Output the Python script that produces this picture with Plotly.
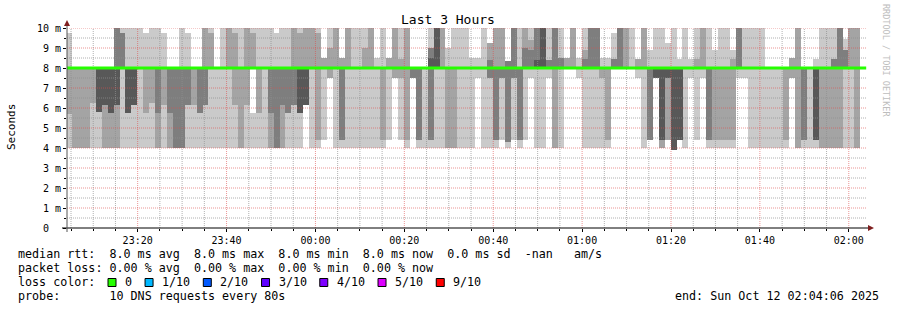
import plotly.graph_objects as go
import pandas as pd

# ---------------- data ----------------
chart_title = "Last 3 Hours"
y_title = "Seconds"
end_time = pd.Timestamp("2025-10-12 02:04:06")
start_time = end_time - pd.Timedelta(hours=3)
first_sample = pd.Timestamp("2025-10-11 23:03:55")
step = pd.Timedelta(seconds=80)

# sorted ping values per 80 s step (ms); p5 = p6 = median
p1 = [4,4,4,4,4,4,4,4,4,4,
      4,4,4,4,4,4,4,4,4,4,
      4,4,4,4,4,4,4,4,4,4,
      4,4,4,4,4,4,4,4,4,4,
      6.15,4,4,4.4,7.5,4,4,4,4,4,
      4,4,4,4,4.4,7.5,4.4,4,7.5,4,
      4,4,4,4,4,4,4,4,4,7.5,
      4,4,4,4.4,4,4.4,4,4.4,7.5,4,
      4,7.5,4,4,8,8,7.5,4,4,4,
      4,4,8,8,8,8,7.5,4,4.4,7.5,
      4,4.4,3.9,4.4,4,7.5,4.4,7.5,4,4,
      4,4,4,7.5,7.5,4,4,4,4,4,
      4,4,7.5,4,4,4,4,4,4,4,
      4,4,4,4,None]
p2 = [5.7,4,4,4,6.25,5.8,4,4,4,8,
      5.75,6.15,8,5.75,6.25,4,6.15,4,4,4,
      6.15,6.15,5.75,6.15,8,8,8,8,6.15,4,
      6.15,8,5.75,8,4,4,4,5.75,6.15,5.75,
      6.15,8,4.4,8,7.5,8,4.4,8,8,8,
      8,8,8,4.4,8,7.5,7.5,4.4,7.5,4.4,
      8,4.4,8,8,4,4,8,8,8,8,
      8,7.5,4.4,7.5,4.3,7.5,4.4,8,8,8,
      8,8,4,8,8,8,8,8,8,8,
      7.5,4.4,8,8,8,8,8,8,4.4,7.5,
      4,4.4,3.9,4.4,8,8,8,8,4.4,4.4,
      4.4,4.4,4.4,8,8,8,8,8,8,8,
      8,4.4,7.5,4,4.4,8,4.4,4,4,4,
      4,8,8,4,None]
p3 = [8,8,8,8,8,5.8,6.15,5.75,6.15,8,
      5.75,6.15,8,8,8,5.75,8,5.75,4,4,
      6.15,8,5.75,6.15,8,8,8,8,8,8,
      8,8,8,8,5.75,4,6.15,5.75,6.15,5.75,
      6.15,8,8,8,8,8,4.4,8,8,8,
      8,8,8,8,8,8,8,8,7.5,4.4,
      8,4.4,8,8,8,8,8,8,8,8,
      8,7.5,4.4,7.5,4.3,7.5,4.4,8,8,8,
      8,8,8,8,8,8,8,8,8,8,
      8,8,8,8,8,8,8,8,4.4,7.5,
      4.4,7.5,3.9,4.4,8,8,8,8,4.4,8,
      8,8,8,8,8,8,8,8,8,8,
      8,8,8,8,4.4,8,4.4,8,8,8,
      8,8,8,8,None]
p4 = [8,8,8,8,8,5.8,6.15,5.75,6.15,8,
      5.75,6.15,8,8,8,8,8,8,8,8,
      8,8,8,8,8,8,8,8,8,8,
      8,8,8,8,8,8,8,8,8,5.75,
      6.15,8,8,8,8,8,8,8,8,8,
      8,8,8,8,8,8,8,8,8,8,
      8,8,8,8,8,8,8,8,8,8,
      8,8,8,8,8,8,8,8,8,8,
      8,8,8,8,8,8,8,8,8,8,
      8,8,8,8,8,8,8,8,8,7.5,
      4.4,7.5,3.9,4.4,8,8,8,8,8,8,
      8,8,8,8,8,8,8,8,8,8,
      8,8,8,8,8,8,4.4,8,8,8,
      8,8,8,8,None]
p7 = [8,8,8,8,8,8,8,8,8,8,
      8,8,8,8,8,8,8,8,8,8,
      8,8,8,8,8,8,8,8,8,8,
      8,8,8,8,8,8,8,8,8,8,
      8,8,8,8,8,8,8,8,8,8,
      8,8,8,8,8,8,8,8,8,8,
      8,8.5,10,8,8,8,8,8,8,8,
      8,8,8,8,8,8,8,8,8,8.4,
      10,8,8,8,8,8,8,8,8,8,
      8,8,8,8,8,8,8,8,8,8,
      8,8,8,8,8,8,8,8,8,8,
      8,8,8,8,8,8,8,8,8,8,
      8,8,8,8,8,8,8,8,8,8,
      8,8,8,8,None]
p8 = [8,8,8,8,8,8,8,8,10,9.75,
      8,8,8,8,8,8,8,8,8,8,
      8,8,8,8,8,8,8,8,8,8,
      8,8,8,8,8,8,8,8,8,8,
      8,8,8,8,8,8,8,8,8,8,
      8,8,8,8,8,8,8,8,8,8,
      8,9,10,8,8,8,8,8,8,8,
      8,8.4,8,8,8.35,10,8,9,8.9,10,
      10,8.4,10,8.5,8,8,8,8.45,10,10,
      8,8,8.45,10,8,8,8,8,8,8,
      8,8,8,8,8,8,8,8,8,8,
      8,8,8,10,8,8,8,8,8,8,
      8,8,8,8,8,8,8,8,8,8.45,
      10,8.9,8,8,None]
p9 = [8,8,8,8,8,8,8,8,10,9.75,
      8,8,8,8,8,8,8,8,8,8,
      8,8,8,10,9.75,8,8,10,9.75,8,
      10,9.75,8,8,8,8,8,8,10,9.75,
      10,10,9.75,8.5,9,10,8.5,10,8,8,
      9,10,8,8,8.5,10,8.45,10,8,8,
      8,9,10,10,8,8,8,8,8,8,
      8,9.25,10,10,8.35,10,8,10,9.4,10,
      10,8.4,10,8.5,8.5,10,8,8.9,10,10,
      8,8,8.45,10,10,8,8.45,10,8,8,
      8,8,8,8,8,8,8.45,10,8,8,
      8,8,8.45,10,8,8,8,8,8,8,
      8,8,8.5,10,8,8,8,8,8,8.45,
      10,8.9,10,10,None]
p10 = [9.75,8,8,8,8,8,8,8,10,10,
       10,10,10,9.75,10,10,9.75,8,8,10,
       9.75,8,8,10,10,8,10,10,10,10,
       10,10,10,10,10,9.75,10,10,10,10,
       10,10,10,8.5,10,10,8.5,10,10,10,
       10,10,8.5,10,8.5,10,10,10,8,8,
       8,10,10,10,9,10,10,10,8.5,8.5,
       10,9.25,10,10,8.35,10,10,10,10,10,
       10,10,10,10,8.5,10,8.5,10,10,10,
       8.5,8.5,9.75,10,10,10,8.45,10,8.9,10,
       10,9.25,10,8.45,10,8.45,10,10,10,8.9,
       10,10,8.9,10,10,10,10,10,8,8,
       8,8,8.5,10,8,8,8.45,10,10,10,
       10,9.45,10,10,None]
median = [8.0,8.0,8.0,8.0,8.0,8.0,8.0,8.0,8.0,8.0,8.0,8.0,8.0,8.0,8.0,
          8.0,8.0,8.0,8.0,8.0,8.0,8.0,8.0,8.0,8.0,8.0,8.0,8.0,8.0,8.0,
          8.0,8.0,8.0,8.0,8.0,8.0,8.0,8.0,8.0,8.0,8.0,8.0,8.0,8.0,8.0,
          8.0,8.0,8.0,8.0,8.0,8.0,8.0,8.0,8.0,8.0,8.0,8.0,8.0,8.0,8.0,
          8.0,8.0,8.0,8.0,8.0,8.0,8.0,8.0,8.0,8.0,8.0,8.0,8.0,8.0,8.0,
          8.0,8.0,8.0,8.0,8.0,8.0,8.0,8.0,8.0,8.0,8.0,8.0,8.0,8.0,8.0,
          8.0,8.0,8.0,8.0,8.0,8.0,8.0,8.0,8.0,8.0,8.0,8.0,8.0,8.0,8.0,
          8.0,8.0,8.0,8.0,8.0,8.0,8.0,8.0,8.0,8.0,8.0,8.0,8.0,8.0,8.0,
          8.0,8.0,8.0,8.0,8.0,8.0,8.0,8.0,8.0,8.0,8.0,8.0,8.0,8.0,8.0]
# white gaps inside the smoke (rare)
gap_lo = [None] * 31 + [5.75] + [None] * 103
gap_hi = [None] * 31 + [8.0] + [None] * 103

y_tick_values = [0, 1, 2, 3, 4, 5, 6, 7, 8, 9, 10]
y_tick_labels = ["\u00a00\u00a0\u00a0", "\u00a01 m", "\u00a02 m", "\u00a03 m", "\u00a04 m",
                 "\u00a05 m", "\u00a06 m", "\u00a07 m", "\u00a08 m", "\u00a09 m", "10 m"]
legend_lines = [
    "median rtt:  8.0 ms avg  8.0 ms max  8.0 ms min  8.0 ms now  0.0 ms sd  -nan   am/s",
    "packet loss: 0.00 % avg  0.00 % max  0.00 % min  0.00 % now",
    "loss color:",
    "probe:       10 DNS requests every 80s",
]
loss_labels = ["0", "1/10", "2/10", "3/10", "4/10", "5/10", "9/10"]
loss_colors = ["#26ff00", "#00b8ff", "#0059ff", "#5e00ff", "#7e00ff", "#dd00ff", "#ff0000"]
end_label = "end: Sun Oct 12 02:04:06 2025"
watermark = "RRDTOOL / TOBI OETIKER"

# ---------------- figure ----------------
W, H = 897, 310
L, R, T, B = 67, 30, 28, 82
PW, PH = W - L - R, H - T - B
FONT = "DejaVu Sans Mono"


def px(x):
    return (x - L) / PW


def py(y):
    return (T + PH - y) / PH


n = len(median)
col_start = pd.date_range(first_sample, periods=n, freq=step)
centers = col_start + step / 2
width_ms = step.total_seconds() * 1000 * 1.01

fig = go.Figure()


def band(lo, hi, color):
    base = [a if (a is not None and b is not None) else None for a, b in zip(lo, hi)]
    hgt = [(b - a) if (a is not None and b is not None) else None for a, b in zip(lo, hi)]
    fig.add_trace(go.Bar(x=centers, y=hgt, base=base, width=width_ms,
                         marker=dict(color=color, line=dict(width=0)),
                         hoverinfo="skip", showlegend=False))


band(p1, p10, "#cacaca")
band(p2, p9, "#a4a4a4")
band(p3, p8, "#7e7e7e")
band(p4, p7, "#585858")
band(gap_lo, gap_hi, "#ffffff")

# grid (drawn above the smoke, like rrdtool)
major_x = pd.date_range("2025-10-11 23:20", "2025-10-12 02:00", freq="20min")
all_x = pd.date_range("2025-10-11 23:05", "2025-10-12 02:00", freq="5min")
minor_x = [t for t in all_x if t.minute % 20 != 0]
minor_y = [v + 0.5 for v in y_tick_values[:-1]]
major_y = y_tick_values[1:]


def vlines(ts):
    xs, ys = [], []
    for t in ts:
        xs += [t, t, None]
        ys += [y_tick_values[0], y_tick_values[-1], None]
    return xs, ys


def hlines(vs):
    xs, ys = [], []
    for v in vs:
        xs += [start_time, end_time, None]
        ys += [v, v, None]
    return xs, ys


minor_col = "rgba(143,143,143,0.7)"
major_col = "rgba(222,79,79,0.6)"
for (xs, ys), col in [(vlines(minor_x), minor_col), (hlines(minor_y), minor_col),
                      (vlines(major_x), major_col), (hlines(major_y), major_col)]:
    fig.add_trace(go.Scatter(x=xs, y=ys, mode="lines",
                             line=dict(color=col, width=1, dash="1px,1px"),
                             hoverinfo="skip", showlegend=False))

# median line
med_x = list(col_start) + [col_start[-1] + step]
med_y = median + [median[-1]]
fig.add_trace(go.Scatter(x=med_x, y=med_y, mode="lines", line_shape="hv",
                         line=dict(color=loss_colors[0], width=3),
                         hoverinfo="skip", showlegend=False))

fig.update_layout(
    width=W, height=H, margin=dict(l=L, r=R, t=T, b=B, pad=0),
    paper_bgcolor="white", plot_bgcolor="white",
    barmode="overlay", bargap=0, showlegend=False,
    font=dict(family=FONT, color="black", size=10),
)
fig.update_xaxes(
    type="date", range=[start_time, end_time], showgrid=False, zeroline=False, showline=False,
    tickmode="array", tickvals=list(major_x), ticktext=[t.strftime("%H:%M") for t in major_x],
    ticks="outside", ticklen=3, tickcolor="black", tickwidth=1,
    tickfont=dict(family=FONT, size=10, color="black"),
    minor=dict(ticks="outside", ticklen=2, tickcolor="black", tickvals=minor_x, showgrid=False),
    fixedrange=True,
)
fig.update_yaxes(
    range=[y_tick_values[0], y_tick_values[-1]], showgrid=False, zeroline=False, showline=False,
    tickmode="array", tickvals=y_tick_values, ticktext=y_tick_labels,
    ticks="outside", ticklen=3, tickcolor="black", tickwidth=1,
    tickfont=dict(family=FONT, size=10, color="black"),
    minor=dict(ticks="outside", ticklen=2, tickcolor="black", tickvals=minor_y, showgrid=False),
    fixedrange=True,
)

shapes = []
# axes
shapes.append(dict(type="line", xref="paper", yref="paper", x0=px(62), x1=px(869), y0=py(228), y1=py(228),
                   line=dict(color="black", width=1), layer="above"))
shapes.append(dict(type="line", xref="paper", yref="paper", x0=px(67), x1=px(67), y0=py(232), y1=py(24),
                   line=dict(color="#555555", width=1), layer="above"))
# arrows
shapes.append(dict(type="path", xref="paper", yref="paper",
                   path=f"M {px(868)},{py(225)} L {px(874)},{py(228)} L {px(868)},{py(231)} Z",
                   fillcolor="#7f1f1f", line=dict(width=0), layer="above"))
shapes.append(dict(type="path", xref="paper", yref="paper",
                   path=f"M {px(64)},{py(26)} L {px(67)},{py(20)} L {px(70)},{py(26)} Z",
                   fillcolor="#7f1f1f", line=dict(width=0), layer="above"))

annotations = []


def text(x, y, s, size, xanchor="left", angle=0, color="black"):
    annotations.append(dict(xref="paper", yref="paper", x=px(x), y=py(y), text=s.replace(" ", "\u00a0"),
                            showarrow=False, xanchor=xanchor, yanchor="middle", textangle=angle,
                            font=dict(family=FONT, size=size, color=color)))


text(448, 19, chart_title, 13, xanchor="center")
text(11, 127, y_title, 11, xanchor="center", angle=-90)
text(886, 60, watermark, 8.5, xanchor="center", angle=90, color="#bdbdbd")

LEG = 11.7
CW = 7.06
line_y = [254, 268, 282, 296]
for s, yy in zip(legend_lines, line_y):
    text(16, yy, s, LEG)
text(881, 296, end_label, LEG, xanchor="right")

bx = 108
for lab, col in zip(loss_labels, loss_colors):
    shapes.append(dict(type="rect", xref="paper", yref="paper", x0=px(bx), x1=px(bx + 8),
                       y0=py(278.5), y1=py(286.5), fillcolor=col, line=dict(color="black", width=1)))
    text(bx + 15, 282, lab, LEG)
    bx = bx + 15 + len(lab) * CW + 15

fig.update_layout(shapes=shapes, annotations=annotations)
fig.write_html("out.html")
